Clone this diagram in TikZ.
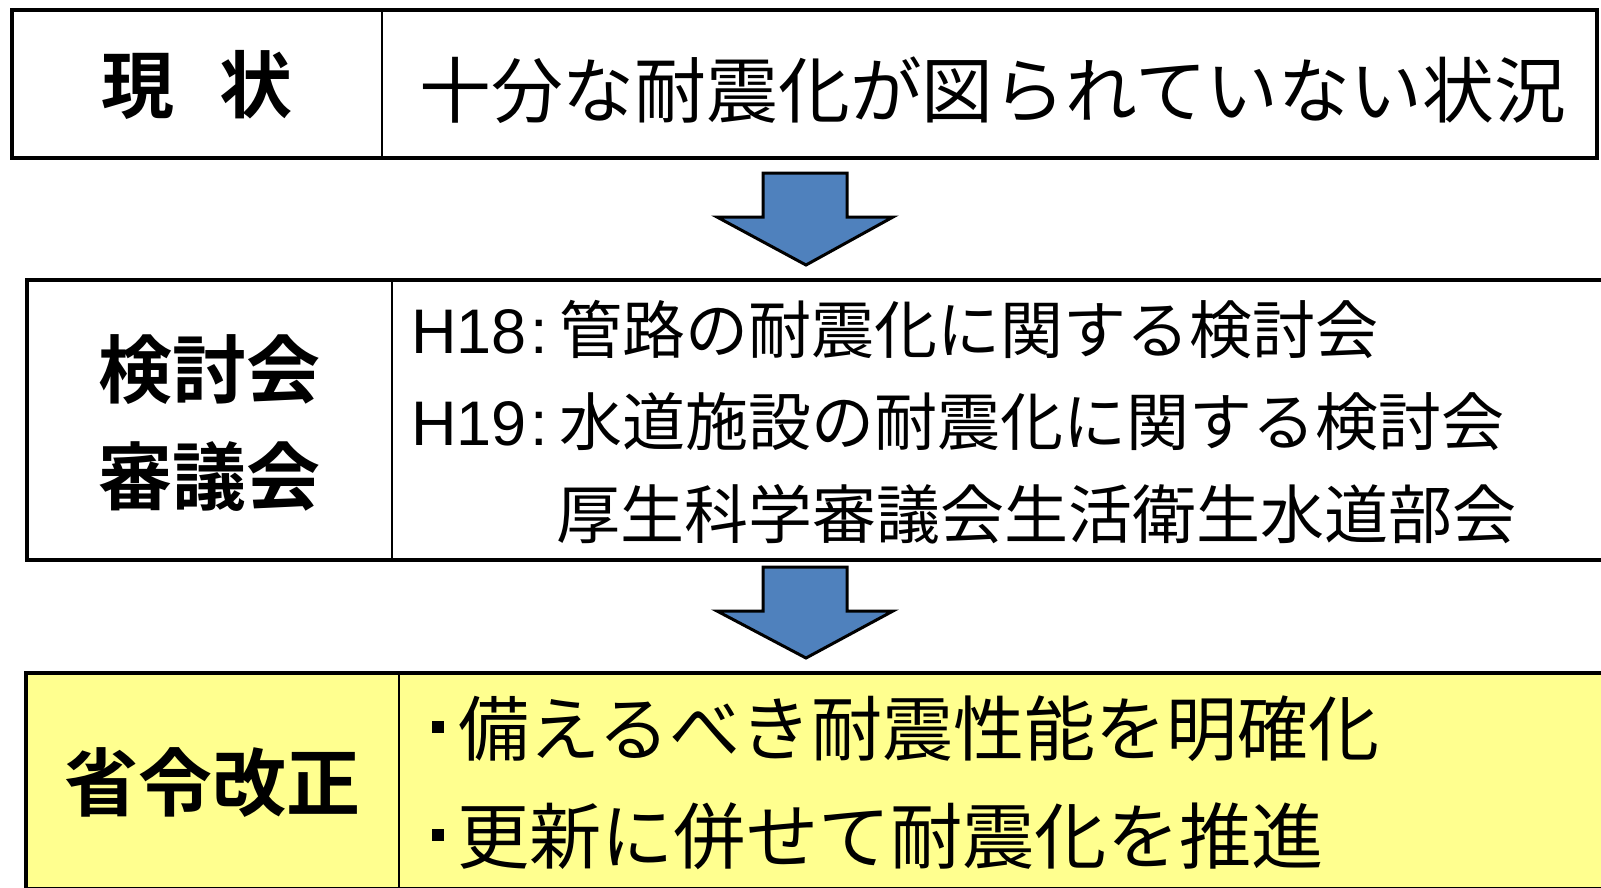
\documentclass[tikz,border=0pt]{standalone}
\usepackage{fontspec}
\newfontfamily\jp{Noto Sans CJK JP}
\newfontfamily\jpb{Noto Sans CJK JP Bold}
\newfontfamily\lat{Liberation Sans}
\definecolor{arrowblue}{RGB}{79,129,189}
\definecolor{paleyellow}{RGB}{255,255,143}
\tikzset{
  frame/.style={draw=black, line width=4.5pt},
  divider/.style={draw=black, line width=1.6pt},
  blockarrow/.style={draw=black, fill=arrowblue, line width=3pt, line join=miter},
  labelbold/.style={inner sep=0pt, font=\jpb\fontsize{74pt}{80pt}\selectfont},
  bodytext/.style={inner sep=0pt, anchor=west, font=\jp\fontsize{71pt}{80pt}\selectfont},
  midtext/.style={inner sep=0pt, anchor=west, font=\jp\fontsize{63pt}{70pt}\selectfont},
}
\newcommand{\pref}[1]{\makebox[148pt][l]{{\lat #1}\hspace{4pt}{\lat :}}}
\begin{document}
\begin{tikzpicture}[x=1pt,y=-1pt]
\useasboundingbox (0,0) rectangle (1601,887);
\clip (0,0) rectangle (1601,887);
% top box
\draw[frame] (12,10) rectangle (1597,158);
\draw[divider] (382,10) -- (382,158);
\node[labelbold, font=\jpb\fontsize{73pt}{80pt}\selectfont] (genjo) at (197,85) {現\hspace{45pt}状};
\node[bodytext, font=\jp\fontsize{71.8pt}{80pt}\selectfont] (status) at (419,90) {十分な耐震化が図られていない状況};
% arrow 1
\draw[blockarrow] (763,173) -- (847,173) -- (847,217) -- (893,217) -- (806,265) -- (717,217) -- (763,217) -- cycle;
% middle box
\draw[frame] (27,280) rectangle (1620,560);
\draw[divider] (392,280) -- (392,560);
\node[labelbold] (kentou) at (209,370) {検討会};
\node[labelbold] (shingi) at (209,477) {審議会};
\node[midtext] (h18) at (411,330) {\pref{H18}管路の耐震化に関する検討会};
\node[midtext] (h19) at (411,422) {\pref{H19}水道施設の耐震化に関する検討会};
\node[midtext, font=\jp\fontsize{64pt}{70pt}\selectfont] (kousei) at (556,514) {厚生科学審議会生活衛生水道部会};
% arrow 2
\draw[blockarrow] (763,567) -- (847,567) -- (847,611) -- (893,611) -- (806,658) -- (717,611) -- (763,611) -- cycle;
% bottom box
\draw[frame, fill=paleyellow] (26,673) rectangle (1620,889);
\draw[divider] (399,673) -- (399,889);
\node[labelbold] (shourei) at (212,783) {省令改正};
\node[bodytext] (item1) at (432,729) {\rule[0.32em]{12pt}{12pt}\hspace{14pt}備えるべき耐震性能を明確化};
\node[bodytext, font=\jp\fontsize{72.2pt}{80pt}\selectfont] (item2) at (432,836) {\rule[0.31em]{12pt}{12pt}\hspace{13pt}更新に併せて耐震化を推進};
\end{tikzpicture}
\end{document}
